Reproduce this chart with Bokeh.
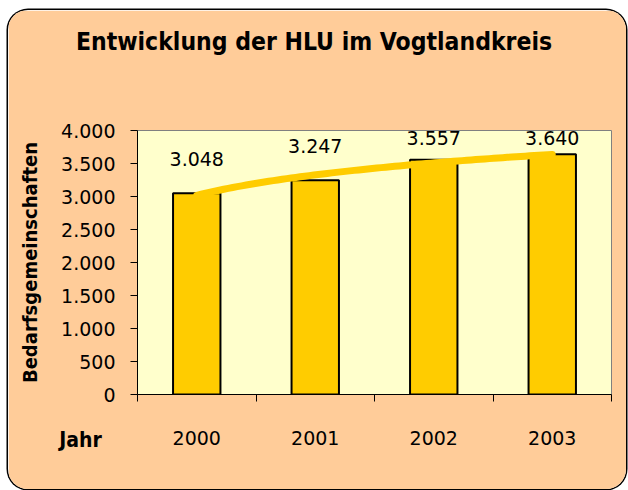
import numpy as np
from bokeh.plotting import figure
from bokeh.models import (Range1d, LinearAxis, FixedTicker, Label)
from bokeh.core.properties import value
from bokeh.embed import file_html
from bokeh.resources import INLINE

# ---- data ----
years = ["2000", "2001", "2002", "2003"]
households = [3048, 3247, 3557, 3640]
value_labels = ["3.048", "3.247", "3.557", "3.640"]
y_ticks = [0, 500, 1000, 1500, 2000, 2500, 3000, 3500, 4000]
y_tick_labels = ["0", "500", "1.000", "1.500", "2.000", "2.500", "3.000", "3.500", "4.000"]
title_text = "Entwicklung der HLU im Vogtlandkreis"
y_title = "Bedarfsgemeinschaften"
x_title = "Jahr"

# ---- style ----
W, H = 618, 479
FONT = "DejaVu Sans"
FONT_C = "DejaVu Sans Condensed"
BAR = "#FFCC00"
OUTER = "#FFCC99"
INNER = "#FFFFCC"

n = len(years)
xc_pos = [i + 0.5 for i in range(n)]          # category centres
xb_pos = list(range(n + 1))                  # category boundaries

p = figure(width=W, height=H,
           x_range=Range1d(0, n), y_range=Range1d(0, 4000),
           output_backend="svg", toolbar_location=None,
           x_axis_location=None, y_axis_location=None,
           min_border_left=129, min_border_right=15,
           min_border_top=120, min_border_bottom=95,
           border_fill_color=OUTER, background_fill_color=INNER,
           outline_line_color="#808080", outline_line_width=1)
p.grid.visible = False
p.styles = {"margin-left": "8px", "margin-top": "10px",
            "border-radius": "20px", "overflow": "hidden",
            "box-shadow": "0 0 0 1.5px black"}

# bars
p.vbar(x=xc_pos, top=households, width=0.4, fill_color=BAR,
       line_color="black", line_width=2)

# logarithmic trend line fitted to the data
idx = np.arange(1, n + 1)
b, a = np.polyfit(np.log(idx), np.array(households, dtype=float), 1)
tx = np.linspace(1, n, 80)
ty = a + b * np.log(tx)
p.line(x=tx - 0.5, y=ty, line_color=BAR, line_width=7, line_cap="round")

# value labels
label_y = np.minimum(np.array(households) + 520, 3880)
p.text(x=xc_pos, y=label_y, text=value_labels, text_align="center",
       text_baseline="middle", text_font=value(FONT), text_font_size="19px",
       text_color="black")

# y axis
yax = LinearAxis(ticker=FixedTicker(ticks=y_ticks),
                 major_label_overrides=dict(zip(y_ticks, y_tick_labels)))
yax.major_tick_out = 7
yax.major_tick_in = 0
yax.minor_tick_line_color = None
yax.axis_line_color = "black"
yax.major_tick_line_color = "black"
yax.major_label_standoff = 15
yax.major_label_text_font = FONT
yax.major_label_text_font_size = "19px"
yax.major_label_text_color = "black"
yax.axis_label = y_title
yax.axis_label_text_font = FONT_C
yax.axis_label_text_font_size = "20px"
yax.axis_label_text_font_style = "bold"
yax.axis_label_text_color = "black"
yax.axis_label_standoff = 16
p.add_layout(yax, "left")

# x axis: tick marks between categories
xt = LinearAxis(ticker=FixedTicker(ticks=xb_pos),
                major_label_overrides={t: "" for t in xb_pos})
xt.major_tick_out = 7
xt.major_tick_in = 0
xt.minor_tick_line_color = None
xt.axis_line_color = "black"
xt.major_tick_line_color = "black"
xt.major_label_text_font_size = "1px"
xt.major_label_standoff = 0
p.add_layout(xt, "below")

# x axis: category labels
xc = LinearAxis(ticker=FixedTicker(ticks=xc_pos),
                major_label_overrides=dict(zip(xc_pos, years)))
xc.axis_line_color = None
xc.major_tick_line_color = None
xc.minor_tick_line_color = None
xc.major_label_standoff = 23
xc.major_label_text_font = FONT
xc.major_label_text_font_size = "19px"
xc.major_label_text_color = "black"
p.add_layout(xc, "below")


def add_label(text, x, y_top, size, side):
    p.add_layout(Label(x=x, y=y_top, x_units="canvas", y_units="canvas",
                       text=text, text_align="center", text_baseline="middle",
                       text_font=FONT_C, text_font_size=size,
                       text_font_style="bold", text_color="black"), side)


add_label(title_text, 305.5, 31, "24.5px", "above")
add_label(x_title, 72, 429, "21px", "below")

open("out.html", "w").write(file_html(p, INLINE))
